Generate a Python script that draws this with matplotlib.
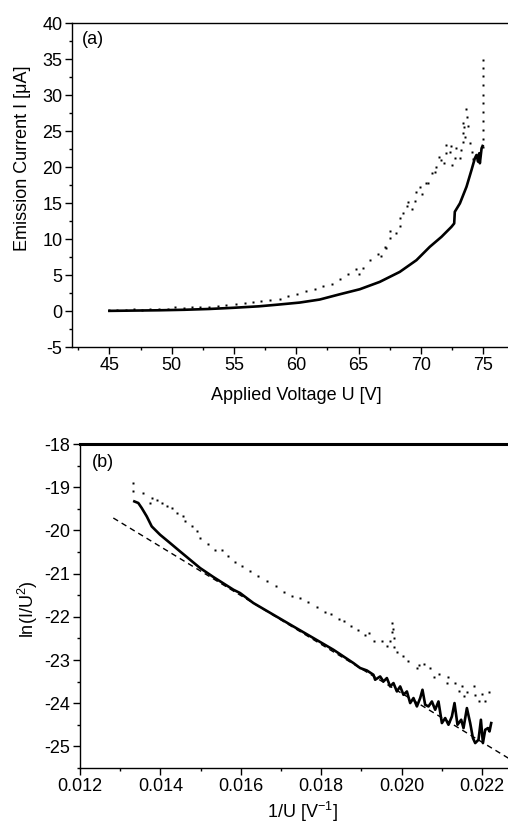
import matplotlib
matplotlib.use("Agg")
import matplotlib.pyplot as plt
from matplotlib.ticker import MultipleLocator, FixedLocator

plt.rcParams['font.family'] = ['Liberation Sans', 'DejaVu Sans']
plt.rcParams['mathtext.default'] = 'regular'

# ---------------- Panel (a) data ----------------
U_solid = [45.0, 47.0, 49.0, 51.0, 53.0, 55.0, 57.0, 58.5, 60.27, 61.88, 63.49, 65.1, 66.7,
           68.31, 69.65, 70.72, 71.66, 72.46, 72.68, 72.73, 73.14, 73.67, 74.07, 74.34,
           74.47, 74.6, 74.69, 74.74, 74.88, 74.96]
I_solid = [0.02, 0.06, 0.1, 0.17, 0.28, 0.45, 0.65, 0.88, 1.17, 1.59, 2.32, 3.02, 4.04,
           5.43, 7.06, 8.91, 10.3, 11.69, 12.16, 13.78, 14.95, 17.26, 19.58, 21.21,
           21.67, 20.74, 21.91, 20.52, 22.6, 22.92]

U_dot = [45.0, 45.6, 46.3, 47.0, 47.6, 48.3, 49.0, 49.7, 50.3, 51.0, 51.6, 52.3, 53.0, 53.7,
         54.4, 55.2, 55.9, 56.5, 57.2, 57.86, 58.67, 59.33, 60.1, 60.8, 61.5, 62.15, 62.9,
         63.55, 64.16, 64.78, 65.04, 65.37, 65.96, 66.57, 66.84, 67.1, 67.22, 67.5, 67.56,
         68.04, 68.31, 68.36, 68.58, 68.9, 68.98, 69.33, 69.57, 69.65, 69.92, 70.13, 70.4,
         70.58, 70.86, 71.13, 71.26, 71.47, 71.66, 71.85, 72.01, 72.06, 72.33, 72.46, 72.54,
         72.73, 72.86, 73.14, 73.26, 73.35, 73.94, 74.07, 74.2, 73.35, 73.54, 73.4, 73.48,
         73.75, 73.67, 73.59, 74.96, 74.96, 74.96, 74.96, 74.96, 74.96, 74.96, 74.96, 74.96,
         74.96, 74.96]
I_dot = [0.15, 0.2, 0.2, 0.25, 0.2, 0.3, 0.25, 0.3, 0.55, 0.45, 0.5, 0.5, 0.5, 0.7,
         0.85, 1.03, 1.1, 1.21, 1.4, 1.59, 1.73, 2.05, 2.32, 2.74, 3.02, 3.48, 3.81,
         4.51, 5.07, 5.9, 5.07, 6.04, 7.06, 7.89, 7.66, 8.82, 8.7, 10.08, 11.13,
         10.77, 11.79, 12.94, 13.56, 14.57, 15.17, 14.11, 15.31, 16.48, 17.26, 16.24, 17.73,
         17.82, 19.12, 19.35, 20.04, 21.43, 20.97, 20.51, 23.06, 21.91, 22.13, 22.92, 20.28,
         21.21, 22.6, 21.21, 22.37, 23.52, 23.3, 22.13, 21.07, 24.77, 24.22, 26.08, 25.53,
         25.7, 26.92, 28.07, 22.8, 23.9, 25.1, 26.4, 27.6, 28.85, 30.0, 31.4, 32.6,
         33.75, 34.9]

# ---------------- Panel (b) data ----------------
x_solid_b = [0.013352, 0.013451, 0.013536, 0.013661, 0.013785, 0.013992, 0.014241, 0.01449,
             0.014739, 0.014988, 0.015319, 0.015817, 0.015983, 0.016314, 0.016812, 0.01731,
             0.017808, 0.018306, 0.018804, 0.018971, 0.019138, 0.019302, 0.019344, 0.019469,
             0.019551, 0.019636, 0.019718, 0.0198, 0.019885, 0.019967, 0.020049, 0.020134,
             0.020216, 0.020298, 0.020383, 0.020465, 0.020522, 0.020589, 0.020671, 0.020756,
             0.020838, 0.02092, 0.021005, 0.021087, 0.021169, 0.021254, 0.021319, 0.021393,
             0.021485, 0.021543, 0.021627, 0.021709, 0.021777, 0.021834, 0.021916, 0.021976,
             0.022026, 0.022083, 0.02215, 0.02219, 0.022232]
y_solid_b = [-19.329, -19.366, -19.482, -19.676, -19.908, -20.1, -20.292, -20.487,
             -20.679, -20.871, -21.079, -21.373, -21.45, -21.681, -21.952, -22.223,
             -22.492, -22.763, -23.071, -23.186, -23.242, -23.342, -23.457, -23.381,
             -23.497, -23.418, -23.612, -23.534, -23.728, -23.612, -23.805, -23.728,
             -23.997, -23.881, -24.075, -23.881, -23.689, -24.036, -24.075, -23.96,
             -24.152, -23.96, -24.46, -24.344, -24.499, -24.307, -23.997, -24.499,
             -24.383, -24.576, -24.113, -24.46, -24.807, -24.923, -24.846, -24.383,
             -24.923, -24.615, -24.576, -24.654, -24.46]

x_dot_b = [0.013327, 0.013327, 0.013576, 0.013743, 0.013785, 0.01391, 0.014034, 0.014158,
           0.014283, 0.014407, 0.014572, 0.014614, 0.014781, 0.014905, 0.014988, 0.015194,
           0.015361, 0.015528, 0.015692, 0.015859, 0.016026, 0.016232, 0.016439, 0.016648,
           0.016872, 0.017079, 0.01727, 0.017477, 0.017684, 0.017893, 0.0181, 0.018241,
           0.018448, 0.01858, 0.018747, 0.018929, 0.019095, 0.019203, 0.019327, 0.019511,
           0.019636, 0.019718, 0.019775, 0.0198, 0.01976, 0.019817, 0.019825, 0.0199,
           0.020034, 0.020173, 0.020397, 0.020447, 0.020564, 0.020714, 0.020813, 0.020945,
           0.021129, 0.021169, 0.021336, 0.021443, 0.021503, 0.021543, 0.021642, 0.021792,
           0.021834, 0.021916, 0.022001, 0.022083, 0.022165]
y_dot_b = [-18.903, -19.097, -19.135, -19.366, -19.25, -19.29, -19.366, -19.445,
           -19.482, -19.598, -19.676, -19.792, -19.908, -20.024, -20.176, -20.308,
           -20.447, -20.464, -20.586, -20.741, -20.818, -20.934, -21.066, -21.181,
           -21.297, -21.427, -21.529, -21.566, -21.667, -21.783, -21.89, -21.936,
           -22.052, -22.107, -22.223, -22.316, -22.415, -22.376, -22.554, -22.554,
           -22.67, -22.554, -22.144, -22.283, -22.362, -22.492, -22.7, -22.825,
           -22.902, -23.034, -23.186, -23.11, -23.087, -23.186, -23.395, -23.318,
           -23.534, -23.395, -23.534, -23.728, -23.612, -23.844, -23.751, -23.612,
           -23.805, -23.96, -23.781, -23.96, -23.751]

fit_x = [0.012829, 0.022655]
fit_y = [-19.713, -25.27]

xticks_a = [45, 50, 55, 60, 65, 70, 75]
yticks_a = [-5, 0, 5, 10, 15, 20, 25, 30, 35, 40]
xticks_b = [0.012, 0.014, 0.016, 0.018, 0.020, 0.022]
xticklabels_b = ['0.012', '0.014', '0.016', '0.018', '0.020', '0.022']
yticks_b = [-25, -24, -23, -22, -21, -20, -19, -18]

FS = 13
W, H = 508, 825
fig = plt.figure(figsize=(W / 100, H / 100), dpi=100)

def style(ax, top_lw):
    ax.spines['right'].set_visible(False)
    for s in ('left', 'bottom'):
        ax.spines[s].set_linewidth(1.0)
    ax.spines['top'].set_linewidth(top_lw)
    ax.tick_params(which='both', direction='out', top=False, right=False,
                   labelsize=FS, width=1.0)
    ax.tick_params(which='major', length=5, pad=2)
    ax.tick_params(which='minor', length=2.5)

# Panel (a)
axa = fig.add_axes([72 / W, 1 - 347 / H, 1 - 72 / W, (347 - 23) / H])
axa.plot(U_dot, I_dot, ls='none', marker='s', ms=1.6, mec='none', color='black')
axa.plot(U_solid, I_solid, color='black', lw=1.9, solid_joinstyle='round')
axa.set_xlim(42, 77)
axa.set_ylim(-5, 40)
axa.xaxis.set_major_locator(FixedLocator(xticks_a))
axa.xaxis.set_minor_locator(MultipleLocator(2.5))
axa.yaxis.set_major_locator(FixedLocator(yticks_a))
axa.yaxis.set_minor_locator(MultipleLocator(2.5))
style(axa, 1.0)
axa.set_yticklabels([str(v) for v in yticks_a])
fig.text(82 / W, 1 - 40 / H, '(a)', fontsize=FS, ha='left', va='center')
fig.text(22.5 / W, 1 - 158 / H, 'Emission Current I [\u03bcA]', fontsize=FS,
         rotation=90, ha='center', va='center')
fig.text(296 / W, 1 - 400 / H, 'Applied Voltage U [V]', fontsize=FS,
         ha='center', va='baseline')

# Panel (b)
axb = fig.add_axes([80 / W, 1 - 768 / H, 1 - 80 / W, (768 - 444) / H])
axb.plot(fit_x, fit_y, color='black', lw=1.0, dashes=(4, 3))
axb.plot(x_dot_b, y_dot_b, ls='none', marker='s', ms=1.6, mec='none', color='black')
axb.plot(x_solid_b, y_solid_b, color='black', lw=1.9, solid_joinstyle='round')
axb.set_xlim(0.012, 0.02265)
axb.set_ylim(-25.5, -18)
axb.xaxis.set_major_locator(FixedLocator(xticks_b))
axb.xaxis.set_minor_locator(MultipleLocator(0.001))
axb.yaxis.set_major_locator(FixedLocator(yticks_b))
axb.yaxis.set_minor_locator(MultipleLocator(0.5))
style(axb, 2.2)
axb.set_xticklabels(xticklabels_b)
axb.set_yticklabels([str(v) for v in yticks_b])
fig.text(92 / W, 1 - 463 / H, '(b)', fontsize=FS, ha='left', va='center')
fig.text(27.5 / W, 1 - 609 / H, 'ln(I/U$^{2}$)', fontsize=FS,
         rotation=90, ha='center', va='center')
fig.text(302 / W, 1 - 818.5 / H, '1/U [V$^{-1}$]', fontsize=FS,
         ha='center', va='baseline')

fig.savefig('out.png', dpi=100)
